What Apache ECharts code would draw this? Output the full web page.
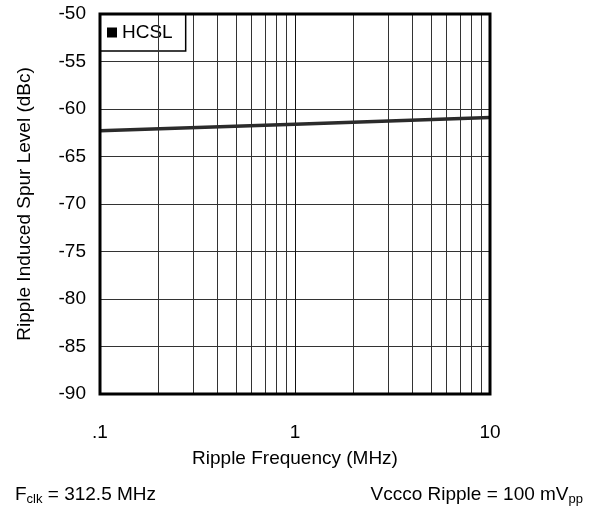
<!DOCTYPE html>
<html><head><meta charset="utf-8">
<script src="https://cdn.jsdelivr.net/npm/echarts@6/dist/echarts.min.js"></script>
<style>html,body{margin:0;padding:0;background:#fff}#c{width:590px;height:514px}</style>
</head><body><div id="c"></div>
<script>
var freq = [0.1, 1, 10];
var spur = [-62.3, -61.6, -60.9];
var minorFreqs = [0.2,0.3,0.4,0.5,0.6,0.7,0.8,0.9,2,3,4,5,6,7,8,9];
var xLabels = {0.1: '.1', 1: '1', 10: '10'};
var F = 'Liberation Sans, Arial, sans-serif';
var FS = 19;
var chart = echarts.init(document.getElementById('c'));
chart.setOption({
  animation: false,
  backgroundColor: '#fff',
  grid: {left: 100, right: 100, top: 14, bottom: 120, containLabel: false},
  legend: {
    data: [{name: 'HCSL', icon: 'rect'}],
    left: 100, top: 14, orient: 'vertical',
    itemWidth: 10, itemHeight: 10, itemGap: 0,
    padding: [9, 13, 9, 7],
    borderColor: '#000', borderWidth: 1.5,
    backgroundColor: '#fff',
    textStyle: {fontFamily: F, fontSize: FS, color: '#000'}
  },
  xAxis: {
    type: 'log', logBase: 10, min: 0.1, max: 10,
    name: 'Ripple Frequency (MHz)', nameLocation: 'middle', nameGap: 55,
    nameTextStyle: {fontFamily: F, fontSize: FS, color: '#000'},
    axisLine: {show: false}, axisTick: {show: false},
    axisLabel: {fontFamily: F, fontSize: FS, color: '#000', margin: 29,
      formatter: function(v){ return xLabels[v] !== undefined ? xLabels[v] : (v < 0.5 ? '.1' : (v < 5 ? '1' : '10')); }},
    splitLine: {show: true, lineStyle: {color: '#111', width: 1}}
  },
  yAxis: {
    type: 'value', min: -90, max: -50, interval: 5,
    name: 'Ripple Induced Spur Level (dBc)', nameLocation: 'middle', nameGap: 66,
    nameTextStyle: {fontFamily: F, fontSize: FS, color: '#000'},
    axisLine: {show: false}, axisTick: {show: false},
    axisLabel: {fontFamily: F, fontSize: FS, color: '#000', margin: 14},
    splitLine: {show: true, lineStyle: {color: '#333', width: 1}}
  },
  series: [
    {
      name: 'grid-minor', type: 'line', data: [], silent: true,
      markLine: {silent: true, symbol: 'none', label: {show: false},
        lineStyle: {color: '#333', width: 1, type: 'solid'},
        data: minorFreqs.map(function(f){ return {xAxis: f}; })}
    },
    {
      name: 'HCSL', type: 'line', showSymbol: false,
      data: freq.map(function(f, i){ return [f, spur[i]]; }),
      lineStyle: {color: '#2b2b2b', width: 3.5}, itemStyle: {color: '#000'}, z: 5
    }
  ],
  graphic: [
    {type: 'rect', shape: {x: 100, y: 14, width: 390, height: 380}, style: {fill: 'none', stroke: '#000', lineWidth: 3}, z: 100},
    {type: 'text', left: 15, top: 485, style: {
      text: '{n|F}{s|clk}{n| = 312.5 MHz}',
      rich: {n: {fontFamily: F, fontSize: FS, fill: '#000'}, s: {fontFamily: F, fontSize: 13, fill: '#000', padding: [10,0,0,0]}}
    }},
    {type: 'text', right: 7, top: 485, style: {
      text: '{n|Vccco Ripple = 100 mV}{s|pp}',
      rich: {n: {fontFamily: F, fontSize: FS, fill: '#000'}, s: {fontFamily: F, fontSize: 13, fill: '#000', padding: [10,0,0,0]}}
    }}
  ]
});
</script></body></html>
